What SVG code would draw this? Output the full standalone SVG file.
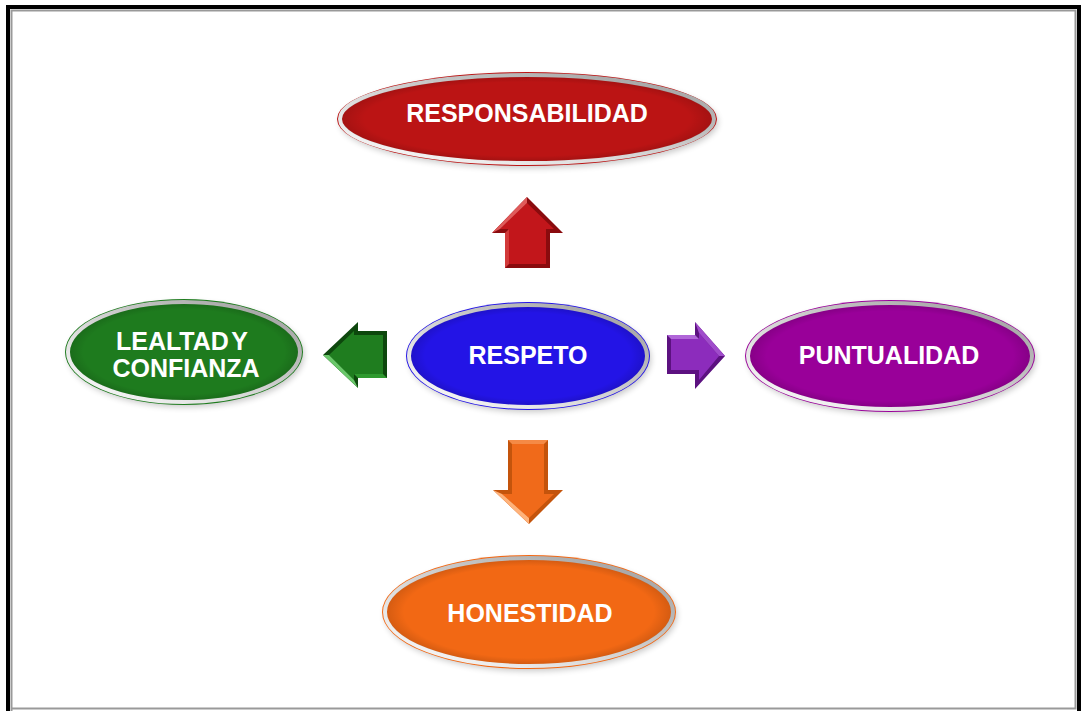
<svg xmlns="http://www.w3.org/2000/svg" width="1081" height="711" viewBox="0 0 1081 711">
  <style>
    .lbl { font-family: "Liberation Sans", Arial, sans-serif; font-weight: bold; font-size: 25px; fill: #ffffff; text-anchor: middle; }
    .ring { fill: none; stroke: url(#ringGrad); stroke-width: 4; }
    .shade { fill: url(#innerShade); }
    .shadow { fill: #000000; opacity: 0.22; filter: url(#soft); }
  </style>
  <defs>
    <linearGradient id="ringGrad" x1="1" y1="0" x2="0" y2="1">
      <stop offset="0" stop-color="#9a9a9a"/>
      <stop offset="0.5" stop-color="#d0d0d0"/>
      <stop offset="1" stop-color="#ffffff"/>
    </linearGradient>
    <radialGradient id="innerShade" cx="0.5" cy="0.5" r="0.5">
      <stop offset="0.88" stop-color="#000" stop-opacity="0"/>
      <stop offset="1" stop-color="#000" stop-opacity="0.12"/>
    </radialGradient>
    <filter id="soft" x="-10%" y="-20%" width="120%" height="140%">
      <feGaussianBlur stdDeviation="3"/>
    </filter>
  </defs>

  <!-- page frame -->
  <rect x="0" y="0" width="1081" height="711" fill="#ffffff"/>
  <path d="M8 713 V7 H1079 V713" fill="none" stroke="#000000" stroke-width="4"/>
  <path d="M11.5 712 V10.5 H1075.5 V708.5 H11.5" fill="none" stroke="#999999" stroke-width="2"/>

  <!-- arrows from the centre -->
  <g id="connectors">
    <g id="arrow-up">
      <polygon points="527,197 563,233 550,233 550,268 505,268 505,233 492,233" fill="#8a0b0e"/>
      <polygon points="527,203 554,229 546,229 546,264 509,264 509,229 500,229" fill="#c2161b"/>
      <polygon points="527,197 492,233 500,229 527,203" fill="#e05a5a"/>
      <polygon points="505,233 509,229 509,264 505,268" fill="#d23a3a"/>
    </g>
    <g id="arrow-left">
      <polygon points="323,355 358,322 358,331 387,331 387,378 358,378 358,388" fill="#0d470d"/>
      <polygon points="329,355 354,331 354,335 383,335 383,374 354,374 354,380" fill="#1f7d1f"/>
      <polygon points="323,355 329,355 354,380 358,388" fill="#6ac86a"/>
      <polygon points="358,378 354,374 383,374 387,378" fill="#2f9a2f"/>
    </g>
    <g id="arrow-right">
      <polygon points="725,356 695,322 695,335 667,335 667,374 695,374 695,389" fill="#5c1180"/>
      <polygon points="719,356 699,333 699,339 671,339 671,370 699,370 699,380" fill="#8c2cbc"/>
      <polygon points="667,335 671,339 699,339 695,335" fill="#b066d8"/>
      <polygon points="695,322 699,333 719,356 725,356" fill="#a04ccb"/>
    </g>
    <g id="arrow-down">
      <polygon points="508,440 548,440 548,490 563,490 529,524 493,490 508,490" fill="#c4540c"/>
      <polygon points="512,444 544,444 544,494 554,494 529,518 502,494 512,494" fill="#f06a1a"/>
      <polygon points="493,490 502,494 529,518 529,524" fill="#ffb27a"/>
      <polygon points="508,440 548,440 544,444 512,444" fill="#f58a45"/>
    </g>
  </g>

  <!-- centre node -->
  <g id="node-respeto">
    <ellipse class="shadow" cx="530" cy="359" rx="121" ry="53"/>
    <ellipse cx="528" cy="356" rx="122" ry="54" fill="#2314e6"/>
    <ellipse class="ring" cx="528" cy="356" rx="119" ry="51"/>
    <ellipse class="shade" cx="528" cy="356" rx="117" ry="49"/>
    <text class="lbl" x="528" y="364">RESPETO</text>
  </g>

  <g id="node-responsabilidad">
    <ellipse class="shadow" cx="529" cy="122" rx="189" ry="46"/>
    <ellipse cx="527" cy="119" rx="190" ry="47" fill="#bb1414"/>
    <ellipse class="ring" cx="527" cy="119" rx="187" ry="44"/>
    <ellipse class="shade" cx="527" cy="119" rx="185" ry="42"/>
    <text class="lbl" x="527" y="122">RESPONSABILIDAD</text>
  </g>

  <g id="node-lealtad">
    <ellipse class="shadow" cx="186" cy="355" rx="118" ry="52"/>
    <ellipse cx="184" cy="352" rx="119" ry="53" fill="#1e7b1e"/>
    <ellipse class="ring" cx="184" cy="352" rx="116" ry="50"/>
    <ellipse class="shade" cx="184" cy="352" rx="114" ry="48"/>
    <text class="lbl" x="182" y="350" word-spacing="-4">LEALTAD Y</text>
    <text class="lbl" x="186" y="377">CONFIANZA</text>
  </g>

  <g id="node-puntualidad">
    <ellipse class="shadow" cx="892" cy="359" rx="144" ry="55"/>
    <ellipse cx="890" cy="356" rx="145" ry="56" fill="#990099"/>
    <ellipse class="ring" cx="890" cy="356" rx="142" ry="53"/>
    <ellipse class="shade" cx="890" cy="356" rx="140" ry="51"/>
    <text class="lbl" x="889" y="364">PUNTUALIDAD</text>
  </g>

  <g id="node-honestidad">
    <ellipse class="shadow" cx="531" cy="615" rx="146" ry="56"/>
    <ellipse cx="529" cy="612" rx="147" ry="57" fill="#f26814"/>
    <ellipse class="ring" cx="529" cy="612" rx="144" ry="54"/>
    <ellipse class="shade" cx="529" cy="612" rx="142" ry="52"/>
    <text class="lbl" x="530" y="622">HONESTIDAD</text>
  </g>
</svg>
